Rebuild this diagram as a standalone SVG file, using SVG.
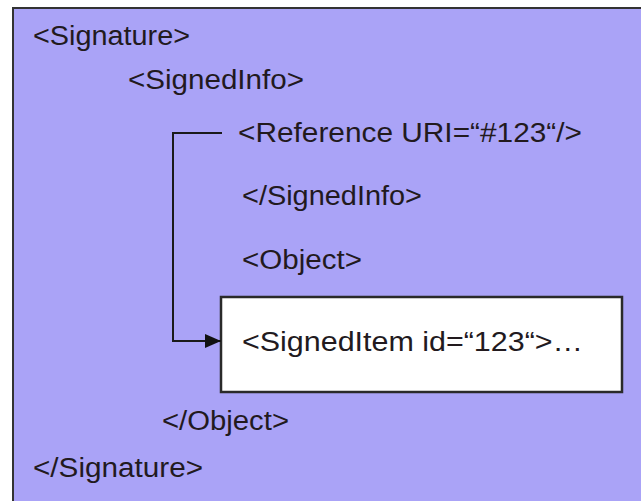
<svg xmlns="http://www.w3.org/2000/svg" width="641" height="501" viewBox="0 0 641 501">
<defs>
<style>
.t{font-family:"Liberation Sans",Arial,sans-serif;font-size:27px;fill:#221a1e}
.c{fill:none;stroke:#1a1a1a;stroke-width:2}
</style>
<marker id="ah" markerWidth="16" markerHeight="14" refX="16" refY="7" orient="auto" markerUnits="userSpaceOnUse">
<path d="M0,0 L16,7 L0,14 Z" fill="#111"/>
</marker>
</defs>
<g id="signature">
<rect x="13" y="8" width="640" height="505" fill="#AAA3F7" stroke="#333" stroke-width="2"/>
<text class="t" x="33" y="45" textLength="157" lengthAdjust="spacingAndGlyphs">&lt;Signature&gt;</text>
<text class="t" x="33" y="477" textLength="170" lengthAdjust="spacingAndGlyphs">&lt;/Signature&gt;</text>
</g>
<g id="signedinfo">
<text class="t" x="128" y="89" textLength="176" lengthAdjust="spacingAndGlyphs">&lt;SignedInfo&gt;</text>
<text class="t" x="238" y="142" textLength="344" lengthAdjust="spacingAndGlyphs">&lt;Reference URI=“#123“/&gt;</text>
<text class="t" x="242" y="205" textLength="180" lengthAdjust="spacingAndGlyphs">&lt;/SignedInfo&gt;</text>
</g>
<g id="object">
<text class="t" x="242" y="269" textLength="120" lengthAdjust="spacingAndGlyphs">&lt;Object&gt;</text>
<text class="t" x="162" y="430" textLength="127" lengthAdjust="spacingAndGlyphs">&lt;/Object&gt;</text>
</g>
<g id="signeditem">
<rect x="221" y="297" width="401" height="95" fill="#fff" stroke="#2a2a2a" stroke-width="2.5"/>
<text class="t" x="242" y="351" textLength="341" lengthAdjust="spacingAndGlyphs">&lt;SignedItem id=“123“&gt;…</text>
</g>
<g id="connectors">
<path class="c" d="M222,133 H173 V341 H221" marker-end="url(#ah)"/>
</g>
</svg>
